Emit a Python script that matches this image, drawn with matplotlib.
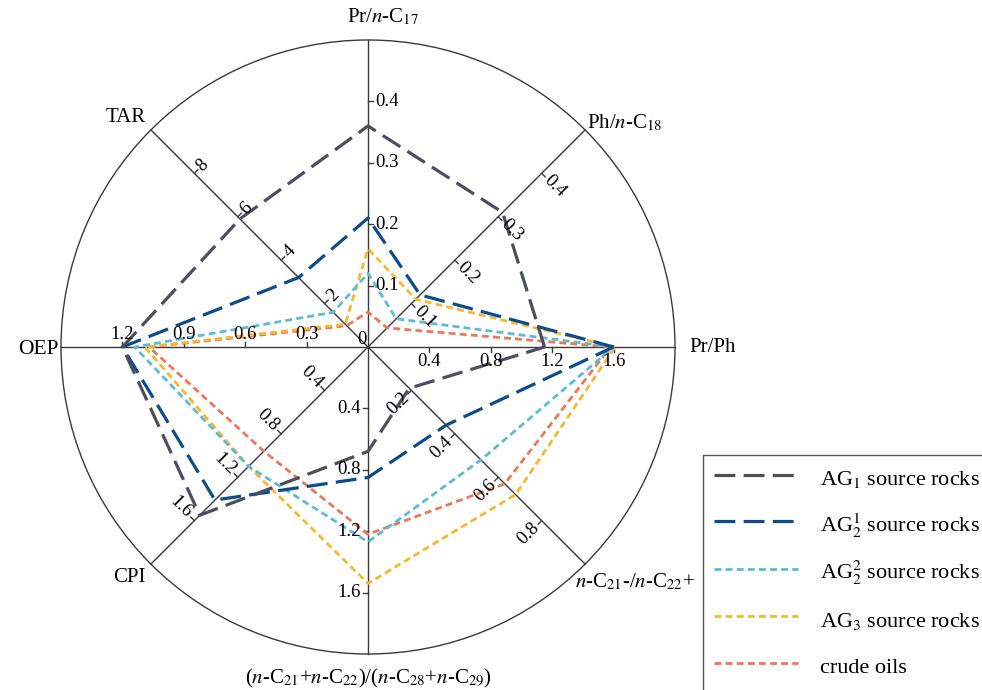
import numpy as np
import matplotlib
matplotlib.use('Agg')
import matplotlib.pyplot as plt
from matplotlib.patches import Circle, Rectangle

plt.rcParams['font.family'] = ['Liberation Serif', 'DejaVu Serif']
plt.rcParams['mathtext.fontset'] = 'stix'
plt.rcParams['lines.scale_dashes'] = False

# spokes, counter-clockwise starting from the right
axis_names = ['Pr/Ph', 'Ph/$n$-C$_{18}$', 'Pr/$n$-C$_{17}$', 'TAR', 'OEP', 'CPI',
              '($n$-C$_{21}$+$n$-C$_{22}$)/($n$-C$_{28}$+$n$-C$_{29}$)',
              '$n$-C$_{21}$-/$n$-C$_{22}$+']
axis_max = [2.0, 0.5, 0.5, 10, 1.5, 2.0, 2.0, 1.0]
axis_ticks = [[0.4, 0.8, 1.2, 1.6],
              [0.1, 0.2, 0.3, 0.4],
              [0.1, 0.2, 0.3, 0.4],
              [2, 4, 6, 8],
              [0.3, 0.6, 0.9, 1.2],
              [0.4, 0.8, 1.2, 1.6],
              [0.4, 0.8, 1.2, 1.6],
              [0.2, 0.4, 0.6, 0.8]]

series_names = ['AG$_1$ source rocks', 'AG$_2^1$ source rocks', 'AG$_2^2$ source rocks',
                'AG$_3$ source rocks', 'crude oils']
ag1 = [1.15, 0.31, 0.36, 5.9, 1.20, 1.55, 0.68, 0.19]
ag2_1 = [1.60, 0.12, 0.21, 3.2, 1.20, 1.41, 0.85, 0.36]
ag2_2 = [1.60, 0.065, 0.12, 1.6, 1.14, 1.10, 1.27, 0.52]
ag3 = [1.61, 0.11, 0.16, 1.05, 1.09, 1.10, 1.54, 0.68]
crude = [1.58, 0.044, 0.057, 0.98, 1.07, 0.96, 1.22, 0.63]
series = [ag1, ag2_1, ag2_2, ag3, crude]

colors = ['#4b4f5d', '#0d4c8c', '#5dbdd0', '#f6b830', '#e9795a']
long_dash = (15, 6)
short_dash = (5, 3)
dashes = [long_dash, long_dash, short_dash, short_dash, short_dash]
widths = [2.3, 2.3, 2.0, 2.0, 2.0]

fig = plt.figure(figsize=(9.82, 6.90), dpi=100)
ax = fig.add_axes([0, 0, 1, 1])
ax.set_xlim(0, 982)
ax.set_ylim(690, 0)
ax.axis('off')

cx, cy, R = 368, 347, 307
angles = np.deg2rad(np.arange(len(axis_names)) * 45.0)
axis_col = '#3a3a3a'


def to_xy(i, v):
    r = v / axis_max[i] * R
    return cx + r * np.cos(angles[i]), cy - r * np.sin(angles[i])


ax.add_patch(Circle((cx, cy), R, fill=False, ec=axis_col, lw=1.0))

for i, a in enumerate(angles):
    ex, ey = to_xy(i, axis_max[i])
    ax.plot([cx, ex], [cy, ey], color=axis_col, lw=1.0)
    # side the ticks and labels sit on (screen coords, y down)
    sx, sy = np.sin(a), np.cos(a)
    deg = np.rad2deg(a) % 360
    cardinal = deg % 90 == 0
    for t in axis_ticks[i]:
        px, py = to_xy(i, t)
        ax.plot([px, px + 5 * sx], [py, py + 5 * sy], color=axis_col, lw=1.0)
        txt = f'{t:g}'
        if cardinal:
            if deg == 0:
                ax.text(px, py + 6, txt, ha='center', va='top', fontsize=13.5)
            elif deg == 90:
                ax.text(px + 7, py, txt, ha='left', va='center', fontsize=13.5)
            elif deg == 180:
                ax.text(px, py - 4, txt, ha='center', va='bottom', fontsize=13.5)
            else:
                ax.text(px - 7, py, txt, ha='right', va='center', fontsize=13.5)
        else:
            rot = (deg - 90 + 180) % 360 - 180
            if rot > 90:
                rot -= 180
            elif rot <= -90:
                rot += 180
            rd = np.deg2rad(rot)
            along = np.cos(rd) * sx - np.sin(rd) * sy
            ha = 'left' if along > 0 else 'right'
            ax.text(px + 7 * sx, py + 7 * sy, txt, ha=ha, va='center',
                    rotation=rot, rotation_mode='anchor', fontsize=13.5)

ax.text(cx - 6, cy - 8, '0', ha='center', va='center', fontsize=13.5)

# spoke titles
name_pos = [
    (cx + R + 14, cy, 'left', 'center'),
    (to_xy(1, 0.5)[0] + 2, to_xy(1, 0.5)[1] - 7, 'left', 'center'),
    (cx - 21, cy - R - 23, 'left', 'center'),
    (to_xy(3, 10)[0] - 5, to_xy(3, 10)[1] - 12, 'right', 'center'),
    (cx - R - 2, cy + 2, 'right', 'center'),
    (to_xy(5, 2.0)[0] - 5, to_xy(5, 2.0)[1] + 13, 'right', 'center'),
    (cx, cy + R + 24, 'center', 'center'),
    (to_xy(7, 1.0)[0] - 10, to_xy(7, 1.0)[1] + 18, 'left', 'center'),
]
for name, (x, y, ha, va) in zip(axis_names, name_pos):
    ax.text(x, y, name, ha=ha, va=va, fontsize=15.5 if name == 'OEP' else 15)

handles = []
for k in reversed(range(len(series))):
    vals = series[k]
    pts = [to_xy(i, v) for i, v in enumerate(vals)]
    pts.append(pts[0])
    xs, ys = zip(*pts)
    line, = ax.plot(xs, ys, color=colors[k], lw=widths[k], dashes=dashes[k],
                    label=series_names[k])
    handles.append(line)
handles = handles[::-1]

# legend box runs off the right and bottom edges
ax.add_patch(Rectangle((703, 455), 400, 300, fill=True, fc='white',
                       ec='#555555', lw=1.0, zorder=5))
leg = ax.legend(handles=handles, loc='upper left', bbox_to_anchor=(714, 464),
                bbox_transform=ax.transData, borderaxespad=0, borderpad=0,
                fontsize=16, frameon=False, handlelength=3.8,
                handletextpad=0.95, handleheight=1.55, labelspacing=0.83)
leg.set_zorder(6)

fig.savefig('out.png', dpi=100, facecolor='white')
